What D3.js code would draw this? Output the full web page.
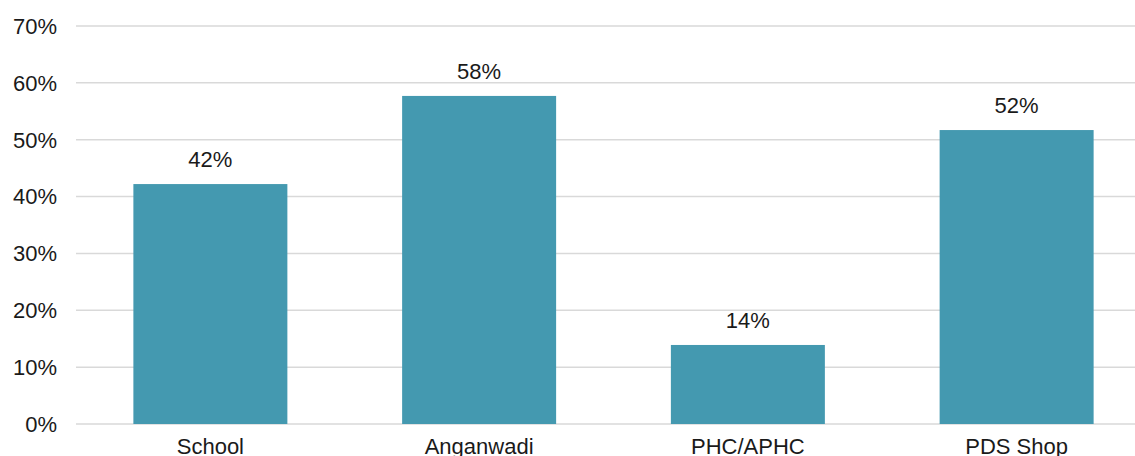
<!DOCTYPE html>
<html>
<head>
<meta charset="utf-8">
<script src="https://cdn.jsdelivr.net/npm/d3@7"></script>
<style>
  body { margin: 0; background: #fff; }
  text { font-family: "Liberation Sans", Arial, Helvetica, sans-serif; fill: #1a1a1a; }
</style>
</head>
<body>
<div id="chart"></div>
<script>
const categories = ['School', 'Anganwadi', 'PHC/APHC', 'PDS Shop']
const values = [42.2, 57.7, 13.9, 51.7]
const valueLabels = ['42%', '58%', '14%', '52%']
const yTicks = [0, 10, 20, 30, 40, 50, 60, 70]

const w = 1135,
      h = 456

const svg = d3.select('#chart')
              .append('svg')
              .attr('width', w)
              .attr('height', h)

const xScale = d3.scaleBand()
                 .domain(categories)
                 .range([76, 1151])
                 .paddingInner(0.427)
                 .paddingOuter(0.2135)

const yScale = d3.scaleLinear()
                 .domain([0, 70])
                 .range([424, 26])

// gridlines
svg.append('g')
   .selectAll('line')
   .data(yTicks)
   .enter()
   .append('line')
   .attr('x1', 76)
   .attr('x2', w)
   .attr('y1', d => yScale(d))
   .attr('y2', d => yScale(d))
   .attr('stroke', '#d9d9d9')
   .attr('stroke-width', 1.5)

// y labels
svg.append('g')
   .selectAll('text')
   .data(yTicks)
   .enter()
   .append('text')
   .attr('x', 57)
   .attr('y', d => yScale(d))
   .attr('dy', '0.36em')
   .attr('text-anchor', 'end')
   .style('font-size', '22px')
   .text(d => d + '%')

svg.selectAll('rect')
   .data(values)
   .enter()
   .append('rect')
   .attr('x', (d, i) => xScale(categories[i]))
   .attr('y', d => yScale(d))
   .attr('width', xScale.bandwidth())
   .attr('height', d => yScale(0) - yScale(d))
   .attr('fill', '#4499b0')

svg.append('g')
   .selectAll('text')
   .data(values)
   .enter()
   .append('text')
   .attr('x', (d, i) => xScale(categories[i]) + xScale.bandwidth() / 2)
   .attr('y', d => yScale(d) - 17)
   .attr('text-anchor', 'middle')
   .style('font-size', '22px')
   .text((d, i) => valueLabels[i])

svg.append('g')
   .selectAll('text')
   .data(categories)
   .enter()
   .append('text')
   .attr('x', d => xScale(d) + xScale.bandwidth() / 2)
   .attr('y', 454)
   .attr('text-anchor', 'middle')
   .style('font-size', '22px')
   .text(d => d)
</script>
</body>
</html>
